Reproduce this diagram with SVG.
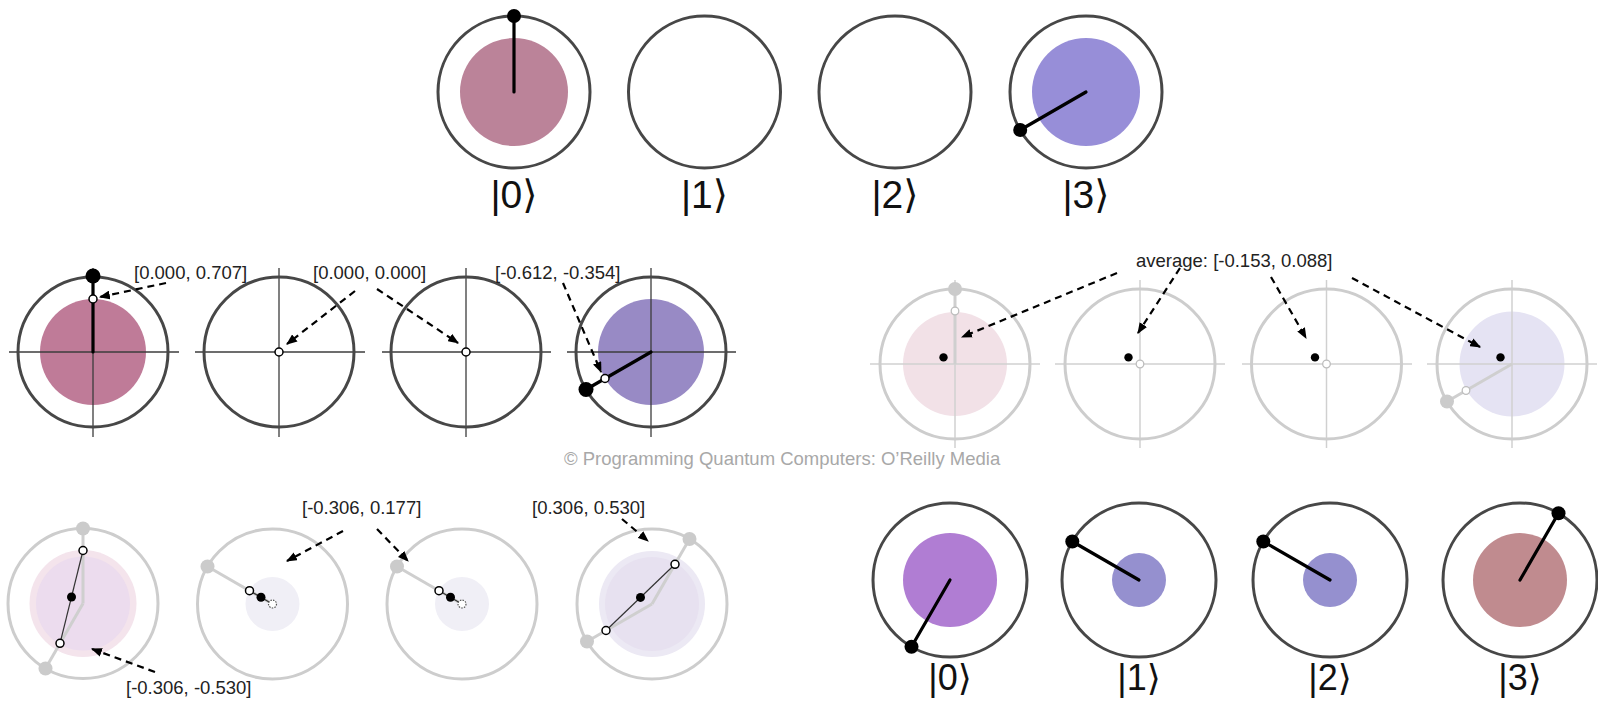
<svg xmlns="http://www.w3.org/2000/svg" width="1598" height="701" viewBox="0 0 1598 701">
<style>
.ring{fill:none;stroke:#474747;stroke-width:3}
.ringL{fill:none;stroke:#cdcdcd;stroke-width:3}
.ax{stroke:#3c3c3c;stroke-width:1.3}
.axL{stroke:#d0d0d0;stroke-width:1.5}
.hand{stroke:#000;stroke-width:3.2;stroke-linecap:round}
.ghand{stroke:#cfcfcf;stroke-width:3}
.thin{stroke:#333;stroke-width:1.2}
.dot{fill:#000}
.wdot{fill:#fff;stroke:#000;stroke-width:1.5}
.wdotL{fill:#fff;stroke:#bdbdbd;stroke-width:1.3}
.wdotD{fill:#fff;stroke:#555;stroke-width:1.2;stroke-dasharray:1.5 1.2}
.gdot{fill:#cbcbcb}
.arr{stroke:#000;stroke-width:2.2;stroke-dasharray:7 5;fill:none;marker-end:url(#ah)}
.lbl{font-family:"Liberation Sans",Arial,sans-serif;font-size:18.5px;fill:#222}
.ket{font-family:"Liberation Sans","DejaVu Sans",sans-serif;font-size:39px;fill:#111;text-anchor:middle}
.ketB{font-family:"Liberation Sans","DejaVu Sans",sans-serif;font-size:36px;fill:#111;text-anchor:middle}
.copy{font-family:"Liberation Sans",Arial,sans-serif;font-size:18.5px;fill:#a8a8a8}
</style>
<defs>
<marker id="ah" viewBox="0 0 10 8" markerWidth="11" markerHeight="9" refX="9" refY="4" orient="auto" markerUnits="userSpaceOnUse">
<path d="M0,0 L10,4 L0,8 z" fill="#000"/>
</marker>
</defs>
<rect width="1598" height="701" fill="#fff"/>

<!-- Top row -->
<g id="top-0">
<circle cx="514" cy="92" r="54" fill="#bb8399"/>
<circle class="ring" cx="514" cy="92" r="76"/>
<line class="hand" x1="514" y1="92" x2="514" y2="16"/>
<circle class="dot" cx="514" cy="16" r="7"/>
<text class="ket" x="514" y="208">|0⟩</text>
</g>
<g id="top-1">
<circle class="ring" cx="704.5" cy="92" r="76"/>
<text class="ket" x="704.5" y="208">|1⟩</text>
</g>
<g id="top-2">
<circle class="ring" cx="895" cy="92" r="76"/>
<text class="ket" x="895" y="208">|2⟩</text>
</g>
<g id="top-3">
<circle cx="1086" cy="92" r="54" fill="#978ed8"/>
<circle class="ring" cx="1086" cy="92" r="76"/>
<line class="hand" x1="1086" y1="92" x2="1020.2" y2="130"/>
<circle class="dot" cx="1020.2" cy="130" r="7"/>
<text class="ket" x="1086" y="208">|3⟩</text>
</g>

<!-- Middle left -->
<g id="mid-0">
<circle cx="93" cy="352" r="53" fill="#bf7b98"/>
<line class="ax" x1="9" y1="352" x2="179" y2="352"/>
<line class="ax" x1="93" y1="268" x2="93" y2="437"/>
<circle class="ring" cx="93" cy="352" r="75"/>
<line class="hand" x1="93" y1="352" x2="93" y2="277"/>
<circle class="dot" cx="93" cy="276" r="7.5"/>
<circle class="wdot" cx="93" cy="299" r="4"/>
<text class="lbl" x="134" y="279">[0.000, 0.707]</text>
</g>
<g id="mid-1">
<line class="ax" x1="195" y1="352" x2="365" y2="352"/>
<line class="ax" x1="279" y1="268" x2="279" y2="437"/>
<circle class="ring" cx="279" cy="352" r="75"/>
<circle class="wdot" cx="279" cy="352" r="4"/>
<text class="lbl" x="313" y="279">[0.000, 0.000]</text>
</g>
<g id="mid-2">
<line class="ax" x1="382" y1="352" x2="551" y2="352"/>
<line class="ax" x1="466" y1="268" x2="466" y2="437"/>
<circle class="ring" cx="466" cy="352" r="75"/>
<circle class="wdot" cx="466" cy="352" r="4"/>
</g>
<g id="mid-3">
<circle cx="651" cy="352" r="53" fill="#988ac5"/>
<line class="ax" x1="567" y1="352" x2="736" y2="352"/>
<line class="ax" x1="651" y1="268" x2="651" y2="437"/>
<circle class="ring" cx="651" cy="352" r="75"/>
<line class="hand" x1="651" y1="352" x2="586" y2="389.5"/>
<circle class="dot" cx="586" cy="389.5" r="7.5"/>
<circle class="wdot" cx="605" cy="378.5" r="4"/>
<text class="lbl" x="495" y="279">[-0.612, -0.354]</text>
</g>

<!-- Middle right -->
<g id="avg-0">
<circle cx="955" cy="364" r="52" fill="#f2e1e7"/>
<line class="axL" x1="870" y1="364" x2="1040" y2="364"/>
<line class="axL" x1="955" y1="280" x2="955" y2="448"/>
<circle class="ringL" cx="955" cy="364" r="75"/>
<line class="ghand" x1="955" y1="364" x2="955" y2="289"/>
<circle class="gdot" cx="955" cy="289" r="7"/>
<circle class="wdotL" cx="955" cy="311" r="3.8"/>
<circle class="dot" cx="943.5" cy="357.4" r="4.2"/>
</g>
<g id="avg-1">
<line class="axL" x1="1055" y1="364" x2="1225" y2="364"/>
<line class="axL" x1="1140" y1="280" x2="1140" y2="448"/>
<circle class="ringL" cx="1140" cy="364" r="75"/>
<circle class="wdotL" cx="1140" cy="364" r="3.8"/>
<circle class="dot" cx="1128.5" cy="357.4" r="4.2"/>
</g>
<g id="avg-2">
<line class="axL" x1="1242" y1="364" x2="1412" y2="364"/>
<line class="axL" x1="1326.5" y1="280" x2="1326.5" y2="448"/>
<circle class="ringL" cx="1326.5" cy="364" r="75"/>
<circle class="wdotL" cx="1326.5" cy="364" r="3.8"/>
<circle class="dot" cx="1315" cy="357.4" r="4.2"/>
</g>
<g id="avg-3">
<circle cx="1512" cy="364" r="52.5" fill="#e5e3f3"/>
<line class="axL" x1="1427" y1="364" x2="1597" y2="364"/>
<line class="axL" x1="1512" y1="280" x2="1512" y2="448"/>
<circle class="ringL" cx="1512" cy="364" r="75"/>
<line class="ghand" x1="1512" y1="364" x2="1447" y2="401.5"/>
<circle class="gdot" cx="1447" cy="401.5" r="7"/>
<circle class="wdotL" cx="1466" cy="390.5" r="3.8"/>
<circle class="dot" cx="1500.5" cy="357.4" r="4.2"/>
<text class="lbl" x="1136" y="267">average: [-0.153, 0.088]</text>
</g>

<!-- Bottom left -->
<g id="bot-0">
<circle cx="83" cy="603.5" r="53.5" fill="#f4e4ec"/>
<circle cx="83" cy="603.5" r="47" fill="#ecdcee"/>
<circle class="ringL" cx="83" cy="603.5" r="75"/>
<line class="ghand" x1="83" y1="603.5" x2="83" y2="528.5"/>
<line class="ghand" x1="83" y1="603.5" x2="45.5" y2="668.5"/>
<circle class="gdot" cx="83" cy="528.5" r="7"/>
<circle class="gdot" cx="45.5" cy="668.5" r="7"/>
<line class="thin" x1="83" y1="550.5" x2="60" y2="643.3"/>
<circle class="wdot" cx="83" cy="550.5" r="4"/>
<circle class="wdot" cx="60" cy="643.3" r="4"/>
<circle class="dot" cx="71.5" cy="597" r="4.5"/>
<text class="lbl" x="126" y="694">[-0.306, -0.530]</text>
</g>
<g id="bot-1">
<circle cx="272.5" cy="604" r="27" fill="#f0eff6"/>
<circle class="ringL" cx="272.5" cy="604" r="75"/>
<line class="ghand" x1="272.5" y1="604" x2="207.5" y2="566.5"/>
<circle class="gdot" cx="207.5" cy="566.5" r="7"/>
<line class="thin" x1="249.5" y1="590.7" x2="272.5" y2="604"/>
<circle class="wdot" cx="249.5" cy="590.7" r="4"/>
<circle class="wdotD" cx="272.5" cy="604" r="4"/>
<circle class="dot" cx="261" cy="597.3" r="4.5"/>
<text class="lbl" x="302" y="514">[-0.306, 0.177]</text>
</g>
<g id="bot-2">
<circle cx="462" cy="604" r="27" fill="#f0eff6"/>
<circle class="ringL" cx="462" cy="604" r="75"/>
<line class="ghand" x1="462" y1="604" x2="397" y2="566.5"/>
<circle class="gdot" cx="397" cy="566.5" r="7"/>
<line class="thin" x1="439" y1="590.7" x2="462" y2="604"/>
<circle class="wdot" cx="439" cy="590.7" r="4"/>
<circle class="wdotD" cx="462" cy="604" r="4"/>
<circle class="dot" cx="450.5" cy="597.3" r="4.5"/>
</g>
<g id="bot-3">
<circle cx="652" cy="604" r="53" fill="#ece9f4"/>
<circle cx="652" cy="604" r="47" fill="#e7e1f0"/>
<circle class="ringL" cx="652" cy="604" r="75"/>
<line class="ghand" x1="652" y1="604" x2="689.5" y2="539"/>
<line class="ghand" x1="652" y1="604" x2="587" y2="641.5"/>
<circle class="gdot" cx="689.5" cy="539" r="7"/>
<circle class="gdot" cx="587" cy="641.5" r="7"/>
<line class="thin" x1="675" y1="564.3" x2="606" y2="630.5"/>
<circle class="wdot" cx="675" cy="564.3" r="4"/>
<circle class="wdot" cx="606" cy="630.5" r="4"/>
<circle class="dot" cx="640.5" cy="597.4" r="4.5"/>
<text class="lbl" x="532" y="514">[0.306, 0.530]</text>
</g>

<!-- Bottom right -->
<g id="res-0">
<circle cx="950" cy="580" r="47" fill="#b07dd3"/>
<circle class="ring" cx="950" cy="580" r="77"/>
<line class="hand" x1="950" y1="580" x2="911.5" y2="646.7"/>
<circle class="dot" cx="911.5" cy="646.7" r="7"/>
<text class="ketB" x="950" y="690">|0⟩</text>
</g>
<g id="res-1">
<circle cx="1139" cy="580" r="27" fill="#9590cf"/>
<circle class="ring" cx="1139" cy="580" r="77"/>
<line class="hand" x1="1139" y1="580" x2="1072.3" y2="541.5"/>
<circle class="dot" cx="1072.3" cy="541.5" r="7"/>
<text class="ketB" x="1139" y="690">|1⟩</text>
</g>
<g id="res-2">
<circle cx="1330" cy="580" r="27" fill="#9590cf"/>
<circle class="ring" cx="1330" cy="580" r="77"/>
<line class="hand" x1="1330" y1="580" x2="1263.3" y2="541.5"/>
<circle class="dot" cx="1263.3" cy="541.5" r="7"/>
<text class="ketB" x="1330" y="690">|2⟩</text>
</g>
<g id="res-3">
<circle cx="1520" cy="580" r="47" fill="#c08b8f"/>
<circle class="ring" cx="1520" cy="580" r="77"/>
<line class="hand" x1="1520" y1="580" x2="1558.5" y2="513.3"/>
<circle class="dot" cx="1558.5" cy="513.3" r="7"/>
<text class="ketB" x="1520" y="690">|3⟩</text>
</g>

<g id="connectors">
<path class="arr" d="M166,283 L100,297"/>
<path class="arr" d="M355,291 L287,344"/>
<path class="arr" d="M377,289 L458,343"/>
<path class="arr" d="M563,283 L601,372"/>
<path class="arr" d="M1117,273 L962,337"/>
<path class="arr" d="M1180,268 L1138,333"/>
<path class="arr" d="M1271,277 L1306,338"/>
<path class="arr" d="M1352,278 L1480,347"/>
<path class="arr" d="M155,672 L92,649"/>
<path class="arr" d="M343,531 L287,561"/>
<path class="arr" d="M377,529 L408,561"/>
<path class="arr" d="M622,519 L648,541"/>
</g>

<text class="copy" x="564" y="465">© Programming Quantum Computers: O’Reilly Media</text>
</svg>
